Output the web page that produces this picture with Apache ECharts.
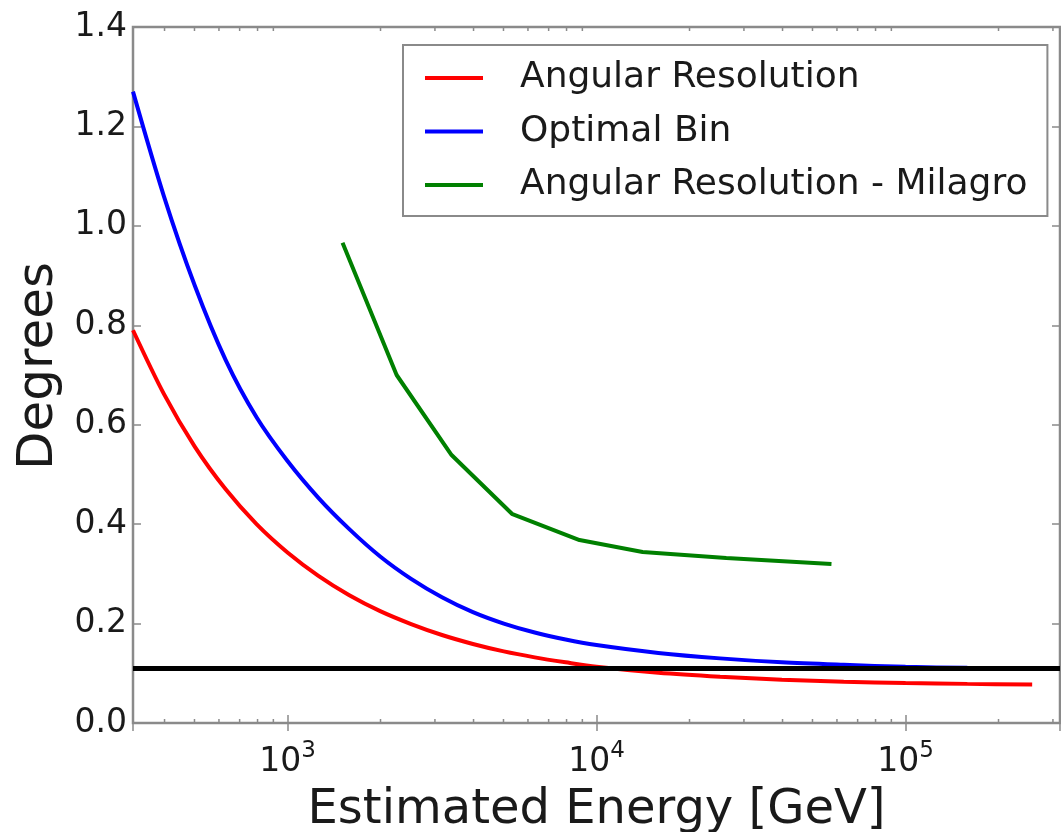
<!DOCTYPE html>
<html>
<head>
<meta charset="utf-8">
<script src="https://cdn.jsdelivr.net/npm/echarts@6/dist/echarts.min.js"></script>
<style>
  html, body { margin: 0; padding: 0; background: #ffffff; }
  #chart { width: 1061px; height: 832px; }
</style>
</head>
<body>
<div id="chart"></div>
<script>
// Estimated energy sample points (GeV) shared by the two detector curves
const energyGeV = [316.2, 398, 501, 631, 794, 1000, 1259, 1585, 1995, 2512, 3162, 3981,
                   5012, 6310, 7943, 10000, 15849, 25119, 39811, 63096, 100000, 158489, 257000];
// Angular resolution (degrees)
const angularResolution = [0.79, 0.662, 0.556, 0.47, 0.4, 0.343, 0.296, 0.257, 0.225, 0.199, 0.177, 0.159,
                           0.144, 0.132, 0.122, 0.113, 0.101, 0.093, 0.087, 0.083, 0.0805, 0.0787, 0.0772];
// Optimal bin size (degrees)
const optimalBin = [1.27, 1.06, 0.88, 0.73, 0.615, 0.527, 0.453, 0.39, 0.335, 0.29, 0.253, 0.223,
                    0.2, 0.182, 0.168, 0.157, 0.141, 0.13, 0.122, 0.117, 0.113, 0.111, 0.110];
// Milagro angular resolution
const milagroEnergy = [1507, 2255, 3396, 5345, 8810, 14100, 26300, 57600];
const milagroResolution = [0.966, 0.70, 0.539, 0.42, 0.368, 0.344, 0.332, 0.32];
// Horizontal reference level (degrees)
const referenceLevel = 0.106;

// Axis ranges and ticks
const xMin = 316.2278, xMax = 316227.8;
const yMin = 0, yMax = 1.4, yStep = 0.2;
const minorTicks = [400, 500, 600, 700, 800, 900,
                    2000, 3000, 4000, 5000, 6000, 7000, 8000, 9000,
                    20000, 30000, 40000, 50000, 60000, 70000, 80000, 90000,
                    200000, 300000];
const seriesNames = ['Angular Resolution', 'Optimal Bin', 'Angular Resolution - Milagro'];

const FONT = 'DejaVu Sans';
const FRAME = '#8a8a8a';
const TEXT = '#1a1a1a';

const zip = (xs, ys) => xs.map((x, i) => [x, ys[i]]);

const chart = echarts.init(document.getElementById('chart'), null, { renderer: 'canvas' });

const logAxisBase = {
  type: 'log',
  logBase: 10,
  min: xMin,
  max: xMax,
  gridIndex: 0,
  axisLine: { show: false },
  splitLine: { show: false },
  minorTick: { show: false },
  axisTick: { show: true, inside: true, length: 8, lineStyle: { color: FRAME, width: 1.5 } }
};
const valueAxisBase = {
  type: 'value',
  min: yMin,
  max: yMax,
  interval: yStep,
  gridIndex: 0,
  axisLine: { show: false },
  splitLine: { show: false },
  axisTick: { show: true, inside: true, length: 8, lineStyle: { color: FRAME, width: 1.5 } }
};

const option = {
  backgroundColor: '#ffffff',
  animation: false,
  grid: {
    left: 133, top: 27, right: 1, bottom: 109,
    containLabel: false,
    outerBoundsMode: 'none',
    show: true, borderColor: FRAME, borderWidth: 2.5, backgroundColor: 'transparent'
  },
  legend: {
    data: seriesNames,
    orient: 'vertical',
    left: 403, top: 45,
    icon: 'rect',
    itemWidth: 58, itemHeight: 4,
    itemGap: 17.5,
    padding: [15, 20, 13, 22],
    backgroundColor: '#ffffff',
    borderColor: FRAME, borderWidth: 2,
    textStyle: { fontFamily: FONT, fontSize: 36, lineHeight: 36, color: TEXT, padding: [0, 0, 0, 32] }
  },
  xAxis: [
    Object.assign({}, logAxisBase, {
      position: 'bottom',
      name: 'Estimated Energy [GeV]',
      nameLocation: 'middle',
      nameGap: 64,
      nameTextStyle: { fontFamily: FONT, fontSize: 48, color: TEXT },
      axisLabel: {
        show: true, margin: 17, showMinLabel: false, showMaxLabel: false,
        formatter: v => '{b|10}{s|' + Math.round(Math.log10(v)) + '}',
        rich: {
          b: { fontFamily: FONT, fontSize: 33, color: TEXT },
          s: { fontFamily: FONT, fontSize: 23, color: TEXT, padding: [0, 0, 22, 0] }
        }
      }
    }),
    Object.assign({}, logAxisBase, { position: 'top', axisLabel: { show: false } })
  ],
  yAxis: [
    Object.assign({}, valueAxisBase, {
      position: 'left',
      name: 'Degrees',
      nameLocation: 'middle',
      nameRotate: 90,
      nameGap: 68,
      nameTextStyle: { fontFamily: FONT, fontSize: 50, color: TEXT, padding: [0, 0, 0, 18] },
      axisLabel: {
        margin: 6, fontFamily: FONT, fontSize: 33, color: TEXT,
        formatter: v => v.toFixed(1)
      }
    }),
    Object.assign({}, valueAxisBase, { position: 'right', axisLabel: { show: false } })
  ],
  series: [
    {
      name: seriesNames[0], type: 'line', xAxisIndex: 0, yAxisIndex: 0,
      data: zip(energyGeV, angularResolution),
      smooth: 0.3, showSymbol: false, symbol: 'none',
      color: '#ff0000', lineStyle: { color: '#ff0000', width: 4 }, z: 3
    },
    {
      name: seriesNames[1], type: 'line', xAxisIndex: 0, yAxisIndex: 0,
      data: zip(energyGeV, optimalBin),
      smooth: 0.3, showSymbol: false, symbol: 'none',
      color: '#0000ff', lineStyle: { color: '#0000ff', width: 4 }, z: 3
    },
    {
      name: seriesNames[2], type: 'line', xAxisIndex: 0, yAxisIndex: 0,
      data: zip(milagroEnergy, milagroResolution),
      smooth: false, showSymbol: false, symbol: 'none',
      color: '#008000', lineStyle: { color: '#008000', width: 4 }, z: 3
    },
    {
      // horizontal reference level
      type: 'line', xAxisIndex: 0, yAxisIndex: 0, data: [], z: 5,
      markLine: {
        silent: true, symbol: 'none', animation: false,
        label: { show: false },
        lineStyle: { color: '#000000', width: 5, type: 'solid' },
        data: [{ yAxis: referenceLevel }]
      }
    },
    {
      // minor log ticks on the bottom and top frame
      type: 'custom', xAxisIndex: 0, yAxisIndex: 0, silent: true, z: 4,
      data: minorTicks.map(v => [v, yMin]),
      renderItem: (params, api) => {
        const b = api.coord([api.value(0), yMin]);
        const t = api.coord([api.value(0), yMax]);
        const st = { stroke: FRAME, lineWidth: 1.5 };
        return {
          type: 'group',
          children: [
            { type: 'line', shape: { x1: b[0], y1: b[1], x2: b[0], y2: b[1] - 4 }, style: st },
            { type: 'line', shape: { x1: t[0], y1: t[1], x2: t[0], y2: t[1] + 4 }, style: st }
          ]
        };
      }
    }
  ]
};

chart.setOption(option);
</script>
</body>
</html>
